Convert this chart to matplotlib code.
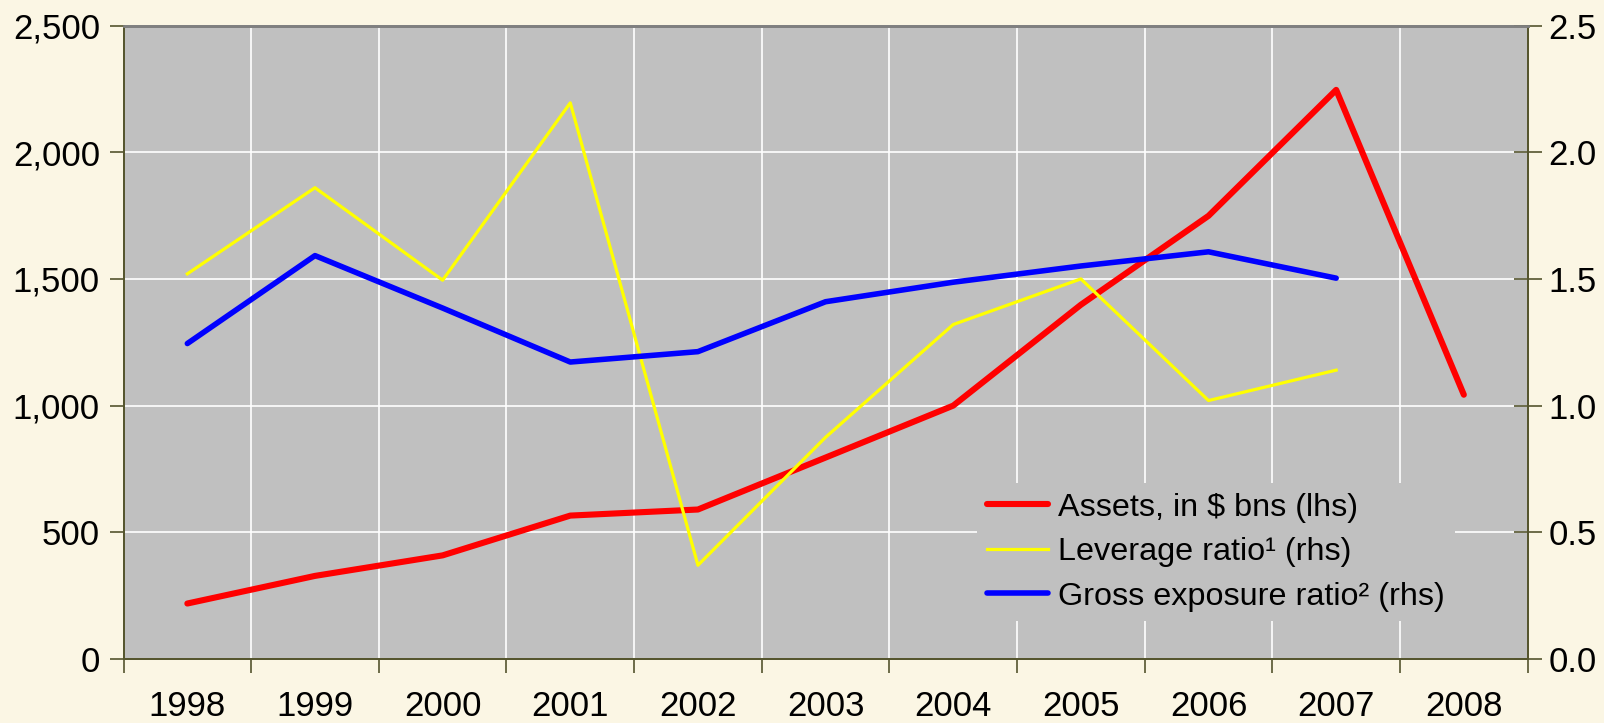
import matplotlib.pyplot as plt
from matplotlib.lines import Line2D
from matplotlib.ticker import FuncFormatter, FixedLocator

# -------------------------------------------------
# Data
# -------------------------------------------------
years = ["1998", "1999", "2000", "2001", "2002", "2003",
         "2004", "2005", "2006", "2007", "2008"]

assets = [219, 328, 409, 566, 590, 795, 1000, 1398, 1749, 2246, 1043]
leverage = [1.52, 1.86, 1.495, 2.195, 0.37, 0.875, 1.32, 1.50, 1.02, 1.14]
gross_exposure = [1.245, 1.592, 1.385, 1.172, 1.213, 1.41, 1.487, 1.551, 1.607, 1.503]

labels = ["Assets, in $ bns (lhs)",
          "Leverage ratio\u00b9 (rhs)",
          "Gross exposure ratio\u00b2 (rhs)"]

plt.rcParams["font.family"] = ["Liberation Sans", "DejaVu Sans"]

fig_bg = "#FBF6E4"
ax_bg = "#C0C0C0"
spine_col = "#55552E"

fig = plt.figure(figsize=(16.04, 7.23), dpi=100, facecolor=fig_bg)
ax = fig.add_axes([0.077, 0.0885, 0.8754, 0.8762], facecolor=ax_bg)
ax2 = ax.twinx()
ax2.patch.set_visible(False)

x = list(range(len(years)))

ax.plot(x, assets, color="#FF0000", lw=4.4, solid_capstyle="round",
        solid_joinstyle="round", zorder=3)
ax2.plot(x[:len(leverage)], leverage, color="#FFFF00", lw=2.3,
         solid_joinstyle="round", zorder=3)
ax2.plot(x[:len(gross_exposure)], gross_exposure, color="#0000FF", lw=4.0,
         solid_capstyle="round", solid_joinstyle="round", zorder=4)

# axes limits
ax.set_xlim(-0.5, len(years) - 0.5)
ax.set_ylim(0, 2500)
ax2.set_ylim(0, 2.5)

# y ticks
ax.set_yticks(range(0, 2501, 500))
ax.yaxis.set_major_formatter(FuncFormatter(lambda v, p: f"{v:,.0f}"))
ax2.set_yticks([0, 0.5, 1.0, 1.5, 2.0, 2.5])
ax2.yaxis.set_major_formatter(FuncFormatter(lambda v, p: f"{v:.1f}"))

# x ticks: boundaries get tick marks, centers get labels
ax.xaxis.set_major_locator(FixedLocator([i - 0.5 for i in range(len(years) + 1)]))
ax.xaxis.set_minor_locator(FixedLocator(x))
ax.set_xticklabels([])
ax.set_xticklabels(years, minor=True)

ax.tick_params(axis="x", which="major", direction="out", length=10,
               width=1.2, color=spine_col)
ax.tick_params(axis="x", which="minor", length=0, pad=22, labelsize=25)
ax.tick_params(axis="y", direction="out", length=10, width=1.2,
               color=spine_col, labelsize=25, pad=7)
ax2.tick_params(axis="y", direction="inout", length=20, width=1.2,
                color=spine_col, labelsize=25, pad=5)

# grid
ax.grid(True, which="major", color="white", lw=1.2)
ax.set_axisbelow(True)

for a in (ax, ax2):
    for s in ("left", "right", "bottom"):
        a.spines[s].set_color(spine_col)
        a.spines[s].set_linewidth(1.3)
    a.spines["top"].set_color("#808080")
    a.spines["top"].set_linewidth(2)

# legend
handles = [
    Line2D([], [], color="#FF0000", lw=4.4, solid_capstyle="round"),
    Line2D([], [], color="#FFFF00", lw=2.3),
    Line2D([], [], color="#0000FF", lw=4.0, solid_capstyle="round"),
]
leg = ax2.legend(handles, labels, loc="upper left",
                 bbox_to_anchor=(0.608, 0.278), fontsize=23.3,
                 frameon=True, facecolor=ax_bg, edgecolor="none",
                 framealpha=1, fancybox=False, handlelength=1.9,
                 handletextpad=0.3, labelspacing=0.45, borderpad=0.3,
                 borderaxespad=0)

plt.savefig("out.png", dpi=100, facecolor=fig_bg)
